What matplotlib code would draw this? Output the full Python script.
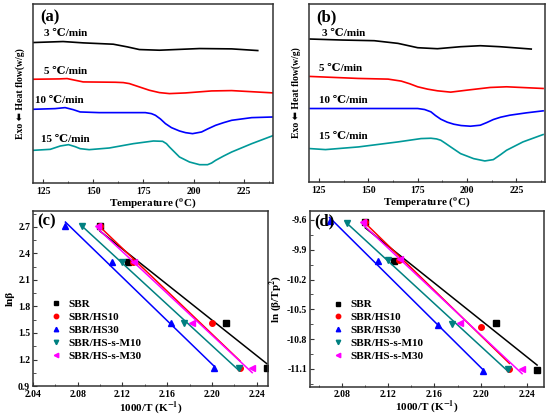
import numpy as np
import matplotlib
matplotlib.use('Agg')
import matplotlib.pyplot as plt
from matplotlib.ticker import MultipleLocator, AutoMinorLocator

plt.rcParams['font.family'] = ['Liberation Serif', 'DejaVu Serif']
plt.rcParams['font.weight'] = 'bold'
plt.rcParams['mathtext.fontset'] = 'stix'

# ---------- DSC curves (a) ----------
a_3_T = [120, 135, 145, 160, 167, 173, 183, 203, 219, 232]
a_3_h = [4.21, 4.24, 4.20, 4.16, 4.08, 4.00, 3.98, 4.03, 4.02, 3.97]
a_5_T = [120, 133, 137, 141, 145, 161, 165, 168, 173, 178, 183, 188, 196, 209, 219, 240]
a_5_h = [3.11, 3.12, 3.13, 3.08, 3.03, 3.02, 3.01, 2.98, 2.88, 2.78, 2.71, 2.68, 2.70, 2.76, 2.77, 2.70]
a_10_T = [120, 131, 136, 140, 143.5, 153, 176, 179, 181, 183.5, 186, 189, 193, 196, 199.5, 204, 207, 211, 215, 219, 229, 240]
a_10_h = [2.21, 2.23, 2.26, 2.20, 2.13, 2.11, 2.11, 2.08, 2.03, 1.92, 1.78, 1.66, 1.56, 1.51, 1.48, 1.53, 1.62, 1.73, 1.81, 1.88, 1.96, 1.98]
a_15_T = [120, 128.6, 133.6, 137.7, 141, 143.5, 148, 158, 170, 180, 184.6, 186.5, 188, 190.5, 193, 198, 203, 207, 209, 211, 215, 219, 229, 240]
a_15_h = [0.98, 1.01, 1.11, 1.15, 1.09, 1.03, 1.00, 1.05, 1.18, 1.26, 1.25, 1.18, 1.08, 0.93, 0.78, 0.63, 0.55, 0.55, 0.60, 0.68, 0.81, 0.93, 1.18, 1.43]

# ---------- DSC curves (b) ----------
b_3_T = [120.5, 136.7, 153, 165, 175, 185, 196.7, 206.7, 216.7, 232.5]
b_3_h = [4.28, 4.25, 4.23, 4.15, 4.02, 3.99, 4.05, 4.08, 4.05, 3.98]
b_5_T = [120.5, 145, 160, 166.7, 171, 175, 180, 185, 191.7, 200, 211.7, 220, 238.5]
b_5_h = [3.16, 3.10, 3.08, 3.02, 2.94, 2.85, 2.78, 2.73, 2.69, 2.75, 2.83, 2.85, 2.80]
b_10_T = [120.5, 150, 175, 178.5, 181.7, 184, 186.7, 190, 193.3, 197, 201.7, 206.7, 210, 213.3, 217, 221.7, 230, 238.5]
b_10_h = [2.20, 2.20, 2.20, 2.17, 2.10, 1.99, 1.88, 1.79, 1.73, 1.69, 1.67, 1.70, 1.78, 1.87, 1.94, 2.00, 2.07, 2.13]
b_15_T = [120.5, 128.3, 145, 165, 176.7, 181.7, 184.5, 186.7, 189, 191.7, 196.7, 203.3, 209, 213.3, 217, 220, 228.3, 238.5]
b_15_h = [1.00, 0.97, 1.05, 1.20, 1.30, 1.31, 1.29, 1.25, 1.16, 1.05, 0.85, 0.70, 0.63, 0.67, 0.82, 0.95, 1.20, 1.42]

rate_labels = ['3 \u2103/min', '5 \u2103/min', '10 \u2103/min', '15 \u2103/min']
dsc_colors = ['black', '#ff0000', '#0000ff', '#009999']
a_label_pos = [(125.3, 4.48), (125.3, 3.35), (121, 2.48), (124, 1.30)]
b_label_pos = [(126.7, 4.45), (125, 3.40), (125, 2.45), (125, 1.35)]

# ---------- Kissinger / Ozawa data ----------
series = ['SBR', 'SBR/HS10', 'SBR/HS30', 'SBR/HS-s-M10', 'SBR/HS-s-M30']
ln_beta = [2.708, 2.303, 1.609, 1.099]
x_sbr = [2.100, 2.125, 2.213, 2.249]
x_hs10 = [2.100, 2.129, 2.200, 2.225]
x_hs30 = [2.069, 2.111, 2.163, 2.202]
x_m10 = [2.084, 2.120, 2.175, 2.224]
x_m30 = [2.098, 2.130, 2.182, 2.236]
y_sbr = [-9.62, -10.01, -10.64, -11.11]
y_hs10 = [-9.62, -10.00, -10.68, -11.10]
y_hs30 = [-9.61, -10.01, -10.66, -11.12]
y_m10 = [-9.63, -10.00, -10.65, -11.10]
y_m30 = [-9.62, -9.99, -10.64, -11.10]

x_all = [x_sbr, x_hs10, x_hs30, x_m10, x_m30]
y_d_all = [y_sbr, y_hs10, y_hs30, y_m10, y_m30]
kin_colors = ['black', '#ff0000', '#0000ff', '#008080', '#ff00ff']
kin_markers = ['s', 'o', '^', 'v', '<']

fig = plt.figure(figsize=(5.5, 4.16), dpi=100)
ax_a = fig.add_axes([0.060, 0.560, 0.436, 0.430])
ax_b = fig.add_axes([0.562, 0.5625, 0.429, 0.428])
ax_c = fig.add_axes([0.060, 0.072, 0.427, 0.421])
ax_d = fig.add_axes([0.5636, 0.0700, 0.4255, 0.4230])


def style_axes(ax):
    for s in ax.spines.values():
        s.set_color('#333333')
        s.set_linewidth(1.1)
    ax.tick_params(which='both', direction='in', color='#333333', labelsize=7, pad=2)
    ax.tick_params(axis='x', pad=3)
    ax.tick_params(which='major', length=3)
    ax.tick_params(which='minor', length=1.8)
    for lab in ax.get_xticklabels() + ax.get_yticklabels():
        lab.set_fontweight('bold')


# DSC panels
dsc_a = [(a_3_T, a_3_h), (a_5_T, a_5_h), (a_10_T, a_10_h), (a_15_T, a_15_h)]
dsc_b = [(b_3_T, b_3_h), (b_5_T, b_5_h), (b_10_T, b_10_h), (b_15_T, b_15_h)]
for ax, curves, lpos, tag, yl in [(ax_a, dsc_a, a_label_pos, '(a)', 5.36),
                                  (ax_b, dsc_b, b_label_pos, '(b)', 5.33)]:
    for (T, h), c, lab, (lx, ly) in zip(curves, dsc_colors, rate_labels, lpos):
        ax.plot(T, h, color=c, lw=1.2)
        ax.text(lx, ly, lab, fontsize=8, fontweight='bold', va='center', ha='left')
    ax.set_xlim(120, 239.5)
    ax.set_ylim(0, yl)
    ax.set_yticks([])
    ax.xaxis.set_major_locator(MultipleLocator(25))
    ax.xaxis.set_minor_locator(AutoMinorLocator(2))
    ax.set_xlabel('Temperature ($^{\\mathbf{o}}$C)', fontsize=8, fontweight='bold', labelpad=0)
    ax.set_ylabel('Exo \u2b05 Heat flow(w/g)', fontsize=7, fontweight='bold', labelpad=6,
                  family=['Liberation Serif', 'DejaVu Sans'])
    ax.text(0.03, 0.97, tag, transform=ax.transAxes, fontsize=12, fontweight='bold', va='top', ha='left')
    style_axes(ax)

# Kinetic panels
for ax, ys_list, tag in [(ax_c, [ln_beta] * 5, '(c)'), (ax_d, y_d_all, '(d)')]:
    for name, xs, ys, c, m in zip(series, x_all, ys_list, kin_colors, kin_markers):
        ax.plot(xs, ys, ls='none', marker=m, color=c, ms=4, label=name)
        k, b = np.polyfit(xs, ys, 1)
        xx = np.array([min(xs), max(xs)])
        ax.plot(xx, k * xx + b, color=c, lw=1.1)
    ax.set_xlabel('1000/T (K$^{-1}$)', fontsize=8, fontweight='bold', labelpad=0)
    ax.legend(loc='upper left', frameon=False, prop={'weight': 'bold', 'size': 8},
              bbox_to_anchor=(0.03, 0.54) if tag == '(c)' else (0.05, 0.54),
              handletextpad=0.4, labelspacing=0.28, handlelength=1.5, borderpad=0.2,
              markerscale=0.8)
    ax.text(0.02, 0.985, tag, transform=ax.transAxes, fontsize=12, fontweight='bold', va='top', ha='left')

ax_c.set_xlim(2.04, 2.25)
ax_c.set_ylim(0.9, 2.88)
ax_c.xaxis.set_major_locator(MultipleLocator(0.04))
ax_c.yaxis.set_major_locator(MultipleLocator(0.3))
ax_c.xaxis.set_minor_locator(AutoMinorLocator(2))
ax_c.yaxis.set_minor_locator(AutoMinorLocator(2))
ax_c.set_ylabel('ln\u03b2', fontsize=8, fontweight='bold', labelpad=2)
ax_c.xaxis.set_major_formatter(plt.FormatStrFormatter('%.2f'))
ax_c.yaxis.set_major_formatter(plt.FormatStrFormatter('%.1f'))

ax_d.set_xlim(2.052, 2.255)
ax_d.set_ylim(-11.28, -9.51)
ax_d.set_xticks([2.08, 2.12, 2.16, 2.20, 2.24])
ax_d.yaxis.set_major_locator(MultipleLocator(0.3))
ax_d.xaxis.set_minor_locator(AutoMinorLocator(2))
ax_d.yaxis.set_minor_locator(AutoMinorLocator(2))
ax_d.set_ylabel('ln (\u03b2/Tp$^{2}$)', fontsize=8, fontweight='bold', labelpad=2)
ax_d.xaxis.set_major_formatter(plt.FormatStrFormatter('%.2f'))
ax_d.yaxis.set_major_formatter(plt.FormatStrFormatter('%.1f'))

style_axes(ax_c)
style_axes(ax_d)
ax_d.tick_params(axis='x', pad=2)

fig.savefig('out.png', dpi=100, facecolor='white')
